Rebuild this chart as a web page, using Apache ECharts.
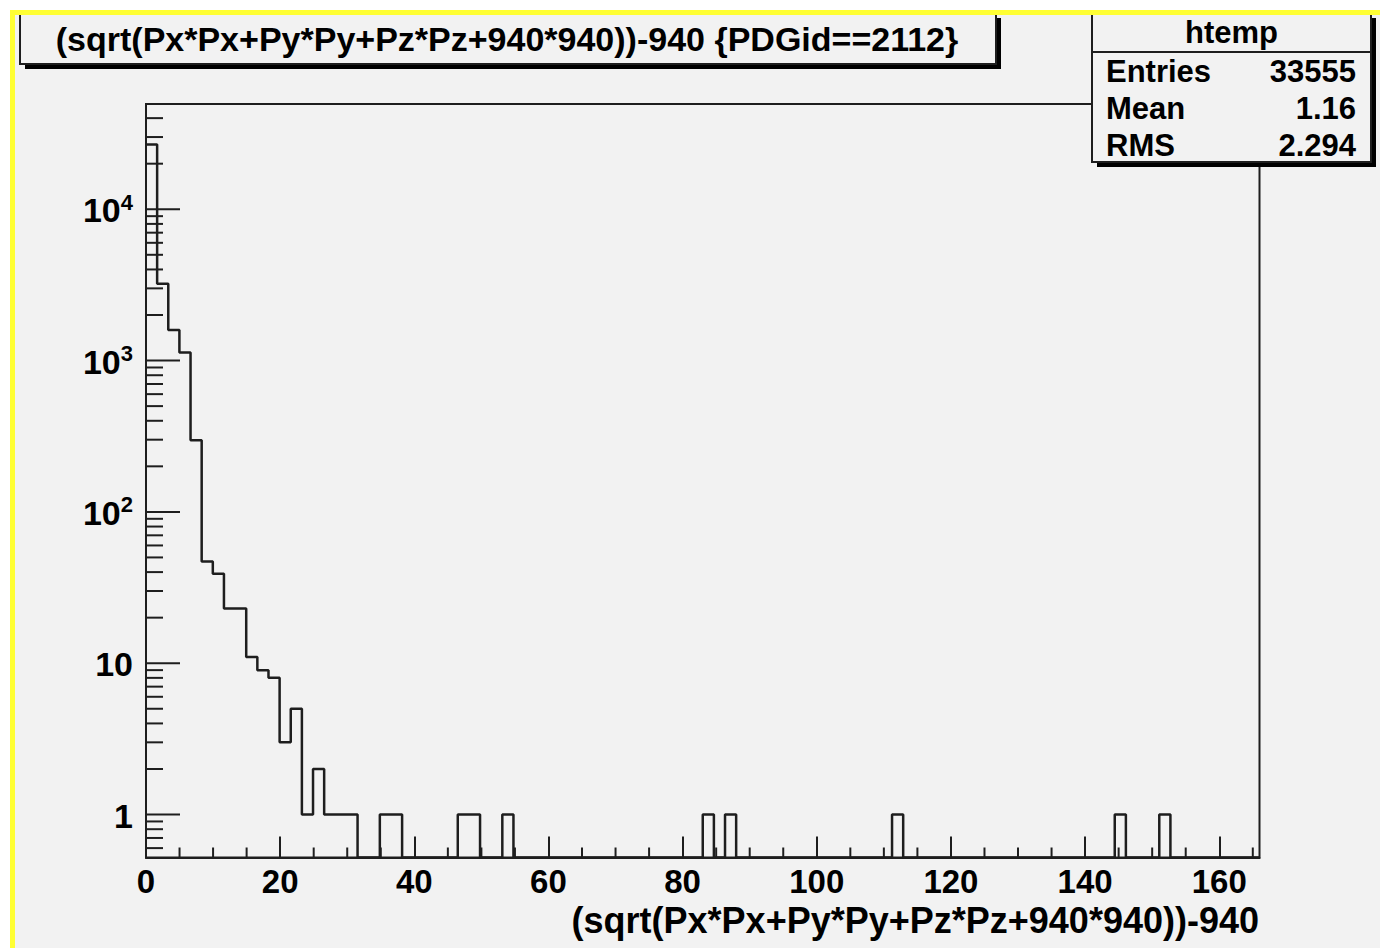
<!DOCTYPE html>
<html>
<head>
<meta charset="utf-8">
<title>(sqrt(Px*Px+Py*Py+Pz*Pz+940*940))-940 {PDGid==2112}</title>
<script src="https://cdn.jsdelivr.net/npm/echarts@6/dist/echarts.min.js"></script>
<style>
  html, body { margin: 0; padding: 0; background: #ffffff; }
  #chart { width: 1380px; height: 948px; }
</style>
</head>
<body>
<div id="chart"></div>
<script>
// Histogram htemp: kinetic energy of neutrons, 100 bins on [0, 166]
const histName = 'htemp';
const titleText = '(sqrt(Px*Px+Py*Py+Pz*Pz+940*940))-940 {PDGid==2112}';
const xTitle = '(sqrt(Px*Px+Py*Py+Pz*Pz+940*940))-940';
const xRange = [0, 166];
const yRange = [0.52, 49600];
const xTickLabels = [0, 20, 40, 60, 80, 100, 120, 140, 160];
const yTickLabels = [1, 10, 100, 1000, 10000];

// bin contents, ten bins per row
const binCounts = [
  26800, 3220, 1590, 1130, 297, 47, 39, 23, 23, 11,
  9, 8, 3, 5, 1, 2, 1, 1, 1, 0,
  0, 1, 1, 0, 0, 0, 0, 0, 1, 1,
  0, 0, 1, 0, 0, 0, 0, 0, 0, 0,
  0, 0, 0, 0, 0, 0, 0, 0, 0, 0,
  1, 0, 1, 0, 0, 0, 0, 0, 0, 0,
  0, 0, 0, 0, 0, 0, 0, 1, 0, 0,
  0, 0, 0, 0, 0, 0, 0, 0, 0, 0,
  0, 0, 0, 0, 0, 0, 0, 1, 0, 0,
  0, 1, 0, 0, 0, 0, 0, 0, 0, 0
];

const statsLabels = ['Entries', 'Mean', 'RMS'];
const statsValues = ['33555', '1.16', '2.294'];

// ---- drawing ----
const FONT = '"Liberation Sans", Arial, Helvetica, sans-serif';
const INK = '#1e1e1e';
const PAD = '#f2f2f2';

// step outline: each bin contributes its two edges; empty bins sit on the lower edge
const binWidth = (xRange[1] - xRange[0]) / binCounts.length;
const outline = [];
binCounts.forEach((c, i) => {
  const y = Math.max(c, yRange[0]);
  outline.push([xRange[0] + i * binWidth, y]);
  outline.push([xRange[0] + (i + 1) * binWidth, y]);
});

// log-axis minor ticks at 2..9 of every decade, x-axis minor ticks every 5
const yMinor = [];
for (let e = -1; e <= 4; e++) {
  for (let m = 2; m <= 9; m++) {
    const v = m * Math.pow(10, e);
    if (v > yRange[0] && v < yRange[1]) yMinor.push(v);
  }
}
const xMinor = [];
for (let v = 5; v < xRange[1]; v += 5) {
  if (v % 20 !== 0) xMinor.push(v);
}

function yTickSeries(values, len) {
  return {
    type: 'custom', silent: true, clip: false, z: 5,
    data: values.map(v => [xRange[0], v]),
    renderItem: (params, api) => {
      const p = api.coord([api.value(0), api.value(1)]);
      return { type: 'line', shape: { x1: p[0], y1: p[1], x2: p[0] + len, y2: p[1] },
               style: { stroke: INK, lineWidth: 2 } };
    }
  };
}
function xTickSeries(values, len) {
  return {
    type: 'custom', silent: true, clip: false, z: 5,
    data: values.map(v => [v, yRange[0]]),
    renderItem: (params, api) => {
      const p = api.coord([api.value(0), api.value(1)]);
      return { type: 'line', shape: { x1: p[0], y1: p[1], x2: p[0], y2: p[1] - len },
               style: { stroke: INK, lineWidth: 2 } };
    }
  };
}

function yLabel(v) {
  const e = Math.round(Math.log10(v));
  if (Math.abs(Math.log10(v) - e) > 1e-6 || yTickLabels.indexOf(Math.pow(10, e)) < 0) return '';
  if (e === 0) return '{b|1}';
  if (e === 1) return '{b|10}';
  return '{b|10}{s|' + e + '}';
}

function boxWithShadow(x, y, w, h) {
  return [
    { type: 'rect', z: 100, shape: { x: x + 5, y: y + 5, width: w, height: h }, style: { fill: '#000' } },
    { type: 'rect', z: 101, shape: { x: x, y: y, width: w, height: h }, style: { fill: PAD, stroke: INK, lineWidth: 2 } }
  ];
}

const graphics = [
  // pad background
  { type: 'rect', z: -100, shape: { x: 12, y: 12, width: 1400, height: 960 }, style: { fill: PAD } },
  // title box
  ...boxWithShadow(20, 13, 976, 51),
  { type: 'text', z: 102, x: 507, y: 39,
    style: { text: titleText, fill: '#000', font: 'bold 34px ' + FONT, align: 'center', verticalAlign: 'middle' } },
  // stats box
  ...boxWithShadow(1092, 13, 279, 149),
  { type: 'line', z: 102, shape: { x1: 1092, y1: 52, x2: 1371, y2: 52 }, style: { stroke: INK, lineWidth: 2 } },
  { type: 'text', z: 102, x: 1231.5, y: 32,
    style: { text: histName, fill: '#000', font: 'bold 31px ' + FONT, align: 'center', verticalAlign: 'middle' } },
  ...statsLabels.map((s, i) => ({ type: 'text', z: 102, x: 1106, y: 71 + i * 37,
    style: { text: s, fill: '#000', font: 'bold 31px ' + FONT, align: 'left', verticalAlign: 'middle' } })),
  ...statsValues.map((s, i) => ({ type: 'text', z: 102, x: 1356, y: 71 + i * 37,
    style: { text: s, fill: '#000', font: 'bold 31px ' + FONT, align: 'right', verticalAlign: 'middle' } })),
  // x-axis title
  { type: 'text', z: 102, x: 1259, y: 920,
    style: { text: xTitle, fill: '#000', font: 'bold 36px ' + FONT, align: 'right', verticalAlign: 'middle' } },
  // highlighted pad border
  { type: 'rect', z: 200, shape: { x: 12.5, y: 12.5, width: 1400, height: 960 },
    style: { fill: 'none', stroke: '#ffff33', lineWidth: 5 } }
];

const chart = echarts.init(document.getElementById('chart'), null, { renderer: 'svg' });
chart.setOption({
  animation: false,
  backgroundColor: '#ffffff',
  grid: { left: 146, right: 120.5, top: 104, bottom: 90.5, show: true,
          borderColor: INK, borderWidth: 2, backgroundColor: 'transparent' },
  xAxis: {
    type: 'value', min: xRange[0], max: xRange[1], interval: 20,
    axisLine: { show: true, lineStyle: { color: INK, width: 2 } },
    axisTick: { show: true, inside: true, length: 21, lineStyle: { color: INK, width: 2 } },
    axisLabel: { show: true, margin: 7, showMaxLabel: false, color: '#000',
                 fontFamily: FONT, fontWeight: 'bold', fontSize: 33, lineHeight: 33,
                 formatter: v => (xTickLabels.indexOf(v) >= 0 ? String(v) : '') },
    splitLine: { show: false }
  },
  yAxis: {
    type: 'log', logBase: 10, min: yRange[0], max: yRange[1],
    axisLine: { show: true, lineStyle: { color: INK, width: 2 } },
    axisTick: { show: false },
    axisLabel: {
      show: true, margin: 13, color: '#000', formatter: yLabel,
      rich: {
        b: { fontFamily: FONT, fontWeight: 'bold', fontSize: 34, lineHeight: 36, verticalAlign: 'bottom', color: '#000' },
        s: { fontFamily: FONT, fontWeight: 'bold', fontSize: 22, lineHeight: 22, verticalAlign: 'top', color: '#000' }
      }
    },
    splitLine: { show: false }
  },
  graphic: graphics,
  series: [
    { name: histName, type: 'line', data: outline, showSymbol: false, symbol: 'none', z: 3,
      lineStyle: { color: INK, width: 2.5 }, clip: true },
    yTickSeries(yTickLabels, 34),
    yTickSeries(yMinor, 17),
    xTickSeries(xMinor, 10)
  ]
});
</script>
</body>
</html>
